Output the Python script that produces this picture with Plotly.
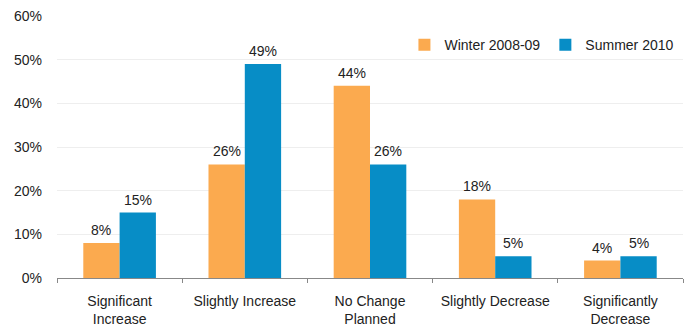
import plotly.graph_objects as go

categories = ["Significant<br>Increase", "Slightly Increase", "No Change<br>Planned",
              "Slightly Decrease", "Significantly<br>Decrease"]
winter = [8, 26, 44, 18, 4]
summer = [15, 49, 26, 5, 5]
series_names = ["Winter 2008-09", "Summer 2010"]
tick_vals = [0, 10, 20, 30, 40, 50, 60]
tick_text = ["0%", "10%", "20%", "30%", "40%", "50%", "60%"]

font_family = "Liberation Sans, Arial, sans-serif"
colors = ["#FBAA4F", "#078DC6"]
bargap = 0.42
half = (1 - bargap) / 4  # offset of each bar's centre from the category centre

fig = go.Figure()
for name, vals, col in zip(series_names, [winter, summer], colors):
    fig.add_trace(go.Bar(x=categories, y=vals, name=name,
                         marker=dict(color=col, line=dict(width=0))))

annotations = []
for si, vals in enumerate([winter, summer]):
    off = -half if si == 0 else half
    for i, v in enumerate(vals):
        annotations.append(dict(x=i + off, y=v, xref="x", yref="y", text=f"{v}%",
                                showarrow=False, yanchor="bottom", yshift=3,
                                font=dict(size=14, color="#222")))

fig.update_layout(
    width=686, height=328,
    margin=dict(l=57, r=3, t=16, b=50, autoexpand=False),
    paper_bgcolor="white", plot_bgcolor="white",
    font=dict(family=font_family, size=14, color="#222"),
    barmode="group", bargap=bargap, bargroupgap=0,
    showlegend=True,
    annotations=annotations,
    legend=dict(orientation="h", x=0.555, y=0.889, xanchor="left", yanchor="middle",
                font=dict(size=14, color="#222"), bgcolor="rgba(0,0,0,0)",
                itemwidth=30, traceorder="normal"),
    xaxis=dict(showline=True, linecolor="#888", linewidth=1, ticks="outside",
               tickson="boundaries", ticklen=4, tickcolor="#888",
               ticklabelstandoff=10, automargin=False,
               tickfont=dict(size=14, color="#222"), showgrid=False),
    yaxis=dict(range=[0, 60], tickvals=tick_vals, ticktext=tick_text,
               showgrid=True, gridcolor="#EEEEEE", gridwidth=1, zeroline=False,
               showline=False, ticks="", ticklabelstandoff=14, automargin=False,
               tickfont=dict(size=14, color="#222")),
)

fig.write_html("out.html")
